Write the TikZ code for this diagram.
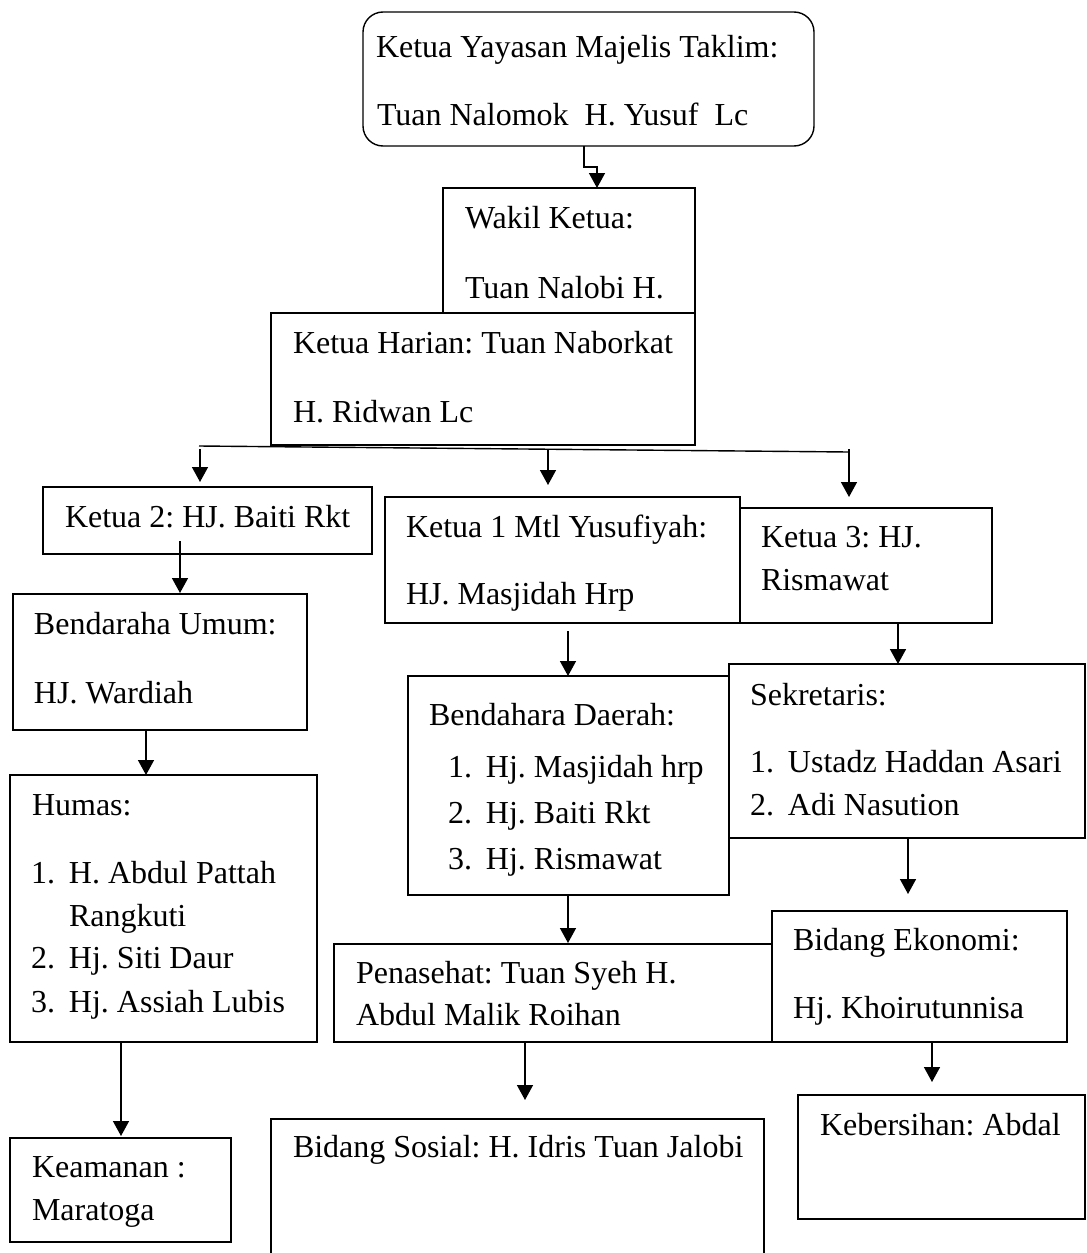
\documentclass[tikz,border=0pt]{standalone}
\usepackage{fontspec}
\setmainfont{Liberation Serif}
\usetikzlibrary{arrows.meta}
\frenchspacing
\tikzset{
  box/.style={draw, rectangle, inner sep=0pt, outer sep=0pt, anchor=north west, line width=1.4pt},
  txt/.style={inner sep=0pt, outer sep=0pt, anchor=base west, font=\fontsize{32}{40}\selectfont},
  arr/.style={line width=1.5pt, -{Triangle[width=16pt,length=15pt]}},
  bus/.style={line width=1.4pt}
}
\newcommand{\itm}[1]{\makebox[38pt][l]{#1}}
\begin{document}
\begin{tikzpicture}[x=1pt,y=-1pt]
\useasboundingbox (0,0) rectangle (1087,1253);
\clip (0,0) rectangle (1087,1253);
% boxes
\node[box, rounded corners=20pt, minimum width=451pt, minimum height=134pt] (top) at (363,12) {};
\node[box, minimum width=252pt, minimum height=125pt] (wakil) at (443,188) {};
\node[box, minimum width=424pt, minimum height=132pt] (kh) at (271,313) {};
\node[box, minimum width=329pt, minimum height=67pt] (k2) at (43,487) {};
\node[box, minimum width=355pt, minimum height=126pt] (k1) at (385,497) {};
\node[box, minimum width=252pt, minimum height=115pt] (k3) at (740,508) {};
\node[box, minimum width=294pt, minimum height=136pt] (bu) at (13,594) {};
\node[box, minimum width=321pt, minimum height=219pt] (bd) at (408,676) {};
\node[box, minimum width=356pt, minimum height=174pt] (sek) at (729,664) {};
\node[box, minimum width=307pt, minimum height=267pt] (humas) at (10,775) {};
\node[box, minimum width=438pt, minimum height=98pt] (pen) at (334,944) {};
\node[box, minimum width=295pt, minimum height=131pt] (be) at (772,911) {};
\node[box, minimum width=221pt, minimum height=104pt] (kea) at (10,1138) {};
\node[box, minimum width=493pt, minimum height=170pt] (bs) at (271,1119) {};
\node[box, minimum width=287pt, minimum height=124pt] (keb) at (798,1095) {};
% texts
\node[txt] (t1) at (376,57) {Ketua Yayasan Majelis Taklim:};
\node[txt] (t2) at (377,125) {Tuan Nalomok~ H. Yusuf~ Lc};
\node[txt] (t3) at (465,228) {Wakil Ketua:};
\node[txt] (t4) at (465,298) {Tuan Nalobi H.};
\node[txt] (t5) at (293,353) {Ketua Harian: Tuan Naborkat};
\node[txt] (t6) at (293,422) {H. Ridwan Lc};
\node[txt] (t7) at (65,527) {Ketua 2: HJ. Baiti Rkt};
\node[txt] (t8) at (406,537) {Ketua 1 Mtl Yusufiyah:};
\node[txt] (t9) at (406,604) {HJ. Masjidah Hrp};
\node[txt] (t10) at (761,547) {Ketua 3: HJ.};
\node[txt] (t11) at (761,590) {Rismawat};
\node[txt] (t12) at (34,634) {Bendaraha Umum:};
\node[txt] (t13) at (34,703) {HJ. Wardiah};
\node[txt] (t14) at (429,725) {Bendahara Daerah:};
\node[txt] (t15) at (448,777) {\itm{1.}Hj. Masjidah hrp};
\node[txt] (t16) at (448,823) {\itm{2.}Hj. Baiti Rkt};
\node[txt] (t17) at (448,869) {\itm{3.}Hj. Rismawat};
\node[txt] (t18) at (750,705) {Sekretaris:};
\node[txt] (t19) at (750,772) {\itm{1.}Ustadz Haddan Asari};
\node[txt] (t20) at (750,815) {\itm{2.}Adi Nasution};
\node[txt] (t21) at (32,815) {Humas:};
\node[txt] (t22) at (31,883) {\itm{1.}H. Abdul Pattah};
\node[txt] (t23) at (69,926) {Rangkuti};
\node[txt] (t24) at (31,968) {\itm{2.}Hj. Siti Daur};
\node[txt] (t25) at (31,1012) {\itm{3.}Hj. Assiah Lubis};
\node[txt] (t26) at (356,983) {Penasehat: Tuan Syeh H.};
\node[txt] (t27) at (356,1025) {Abdul Malik Roihan};
\node[txt] (t28) at (793,950) {Bidang Ekonomi:};
\node[txt] (t29) at (793,1018) {Hj. Khoirutunnisa};
\node[txt] (t30) at (32,1177) {Keamanan :};
\node[txt] (t31) at (32,1220) {Maratoga};
\node[txt] (t32) at (293,1157) {Bidang Sosial: H. Idris Tuan Jalobi};
\node[txt] (t33) at (820,1135) {Kebersihan: Abdal};
% connectors
\draw[arr] ([xshift=221pt]top.south west) -- ++(0,21) -- ++(13,0) -- ([xshift=154pt]wakil.north west);
\draw[bus] ([xshift=-72pt,yshift=-1pt]kh.south west) -- ([xshift=578pt,yshift=-7pt]kh.south west);
\draw[arr] ([xshift=-71pt,yshift=-4pt]kh.south west) -- ([xshift=157pt,yshift=5pt]k2.north west);
\draw[arr] ([xshift=277pt,yshift=-5pt]kh.south west) -- ([xshift=163pt,yshift=12pt]k1.north west);
\draw[arr] ([xshift=578pt,yshift=-4pt]kh.south west) -- ([xshift=109pt,yshift=11pt]k3.north west);
\draw[arr] ([xshift=137pt,yshift=13pt]k2.south west) -- ([xshift=167pt,yshift=1pt]bu.north west);
\draw[arr] ([xshift=133pt]bu.south west) -- ([xshift=136pt]humas.north west);
\draw[arr] ([xshift=111pt]humas.south west) -- ([xshift=111pt,yshift=2pt]kea.north west);
\draw[arr] ([xshift=183pt,yshift=-8pt]k1.south west) -- ([xshift=160pt]bd.north west);
\draw[arr] ([xshift=158pt]k3.south west) -- ([xshift=169pt]sek.north west);
\draw[arr] ([xshift=160pt]bd.south west) -- ([xshift=234pt,yshift=1pt]pen.north west);
\draw[arr] ([xshift=179pt]sek.south west) -- ([xshift=136pt,yshift=17pt]be.north west);
\draw[arr] ([xshift=191pt]pen.south west) -- ([xshift=254pt,yshift=19pt]bs.north west);
\draw[arr] ([xshift=160pt]be.south west) -- ([xshift=134pt,yshift=13pt]keb.north west);
\end{tikzpicture}
\end{document}
